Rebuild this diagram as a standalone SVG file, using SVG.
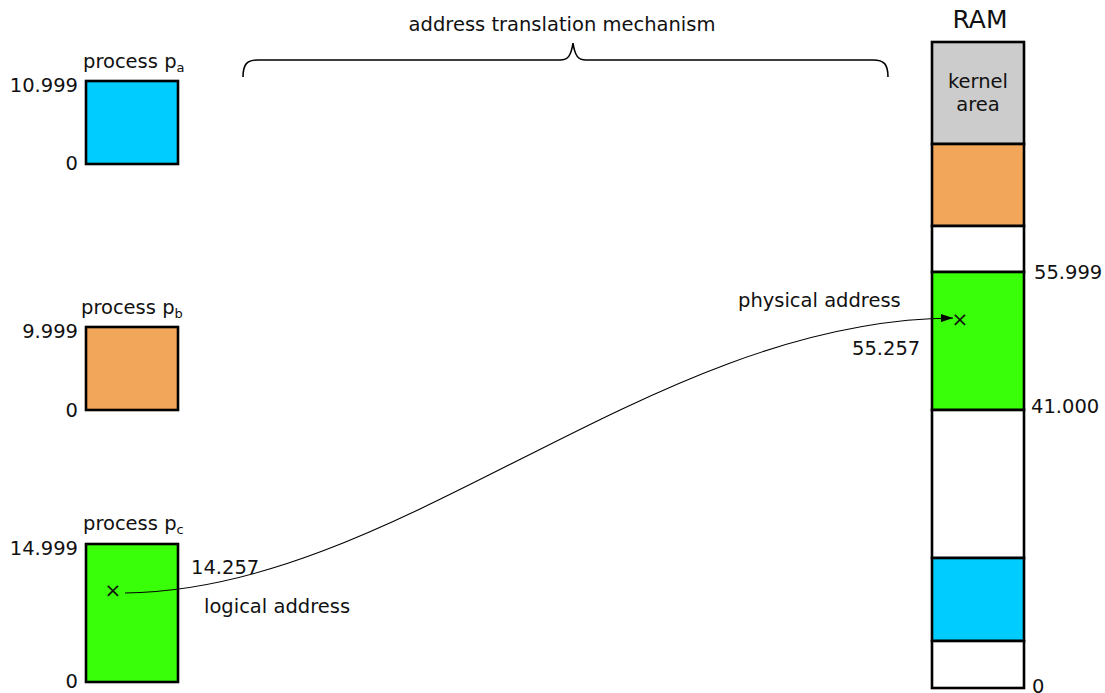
<svg xmlns="http://www.w3.org/2000/svg" width="1105" height="693" viewBox="0 0 1105 693">
<style>
text{font-family:"DejaVu Sans",sans-serif;font-size:19.5px;fill:#111}
.box{stroke:#000;stroke-width:2.6}
.blue{fill:#00ccff}.orange{fill:#f2a65a}.green{fill:#39ff08}.gray{fill:#cccccc}.white{fill:#fff}
.e{text-anchor:end}.m{text-anchor:middle}
.sub{font-size:13px}
.x{font-size:20px}
</style>
<defs>
<marker id="arr" markerWidth="12" markerHeight="8" refX="12" refY="4" orient="auto" markerUnits="userSpaceOnUse">
<path d="M0,0 L12,4 L0,8 Z" fill="#000"/>
</marker>
</defs>
<text class="m" x="562" y="31">address translation mechanism</text>
<path d="M243,77 C243,64 247,60 258,60 L560,60 C568,60 571,56 573,43 C575,56 578,60 586,60 L873,60 C884,60 888,64 888,77" fill="none" stroke="#000" stroke-width="1.6"/>
<g id="pa">
<rect class="box blue" x="86" y="81" width="92" height="83"/>
<text x="83" y="68">process p<tspan class="sub" dy="4">a</tspan></text>
<text class="e" x="78" y="92">10.999</text>
<text class="e" x="78" y="170">0</text>
</g>
<g id="pb">
<rect class="box orange" x="86" y="327" width="92" height="83"/>
<text x="81" y="314">process p<tspan class="sub" dy="4">b</tspan></text>
<text class="e" x="78" y="338">9.999</text>
<text class="e" x="78" y="417">0</text>
</g>
<g id="pc">
<rect class="box green" x="86" y="544" width="92" height="138"/>
<text x="83" y="530">process p<tspan class="sub" dy="4">c</tspan></text>
<text class="e" x="78" y="555">14.999</text>
<text class="e" x="78" y="688">0</text>
<text class="x m" x="113" y="597">×</text>
<text x="191" y="574">14.257</text>
<text x="204" y="613">logical address</text>
</g>
<g id="ram">
<text class="m" x="980" y="28" style="font-size:25px">RAM</text>
<rect class="box gray" x="932" y="42" width="92" height="102"/>
<rect class="box orange" x="932" y="144" width="92" height="82"/>
<rect class="box white" x="932" y="226" width="92" height="46"/>
<rect class="box green" x="932" y="272" width="92" height="138"/>
<rect class="box white" x="932" y="410" width="92" height="148"/>
<rect class="box blue" x="932" y="558" width="92" height="83"/>
<rect class="box white" x="932" y="641" width="92" height="47"/>
<text class="m" x="978" y="88">kernel</text>
<text class="m" x="978" y="111">area</text>
<text class="x m" x="960" y="326">×</text>
<text x="1034" y="279">55.999</text>
<text x="1031" y="413">41.000</text>
<text x="1032" y="693">0</text>
<text x="738" y="307">physical address</text>
<text x="852" y="355">55.257</text>
</g>
<g id="connectors">
<path d="M125,593 C400,590 650,320 953,318" fill="none" stroke="#000" stroke-width="1.1" marker-end="url(#arr)"/>
</g>
</svg>
